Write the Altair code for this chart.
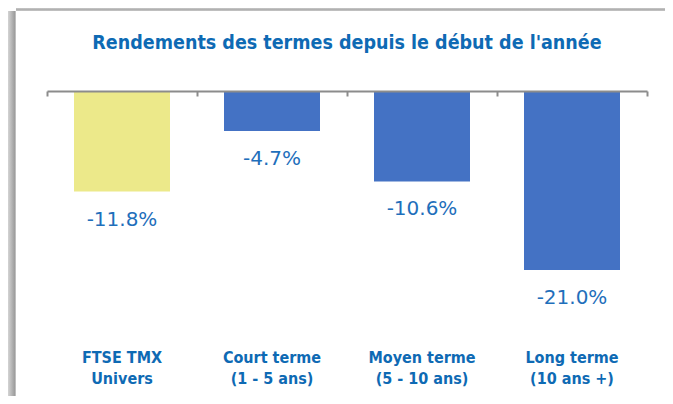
import altair as alt
import pandas as pd

categories = ["FTSE TMX\nUnivers", "Court terme\n(1 - 5 ans)", "Moyen terme\n(5 - 10 ans)", "Long terme\n(10 ans +)"]
values = [-11.8, -4.7, -10.6, -21.0]
bar_colors = ["#ECE98A", "#4472C4", "#4472C4", "#4472C4"]
title_text = "Rendements des termes depuis le début de l'année"

df = pd.DataFrame({
    "cat": categories,
    "val": values,
    "label": [f"{v:.1f}%" for v in values],
})

H = 249
W = 600

xscale = alt.Scale(domain=categories, paddingInner=0, paddingOuter=0)
yscale = alt.Scale(domain=[-29.2, 0], nice=False, zero=False)

bars = alt.Chart(df).mark_bar(width=alt.RelativeBandSize(0.64)).encode(
    x=alt.X("cat:N", scale=xscale, sort=categories, title=None,
            axis=alt.Axis(orient="bottom", offset=-H, labels=False, ticks=True,
                          tickBand="extent", tickSize=5, tickWidth=2, tickColor="#8c8c8c",
                          domainColor="#8c8c8c", domainWidth=2, zindex=1, grid=False)),
    y=alt.Y("val:Q", scale=yscale, axis=None),
    color=alt.Color("cat:N", scale=alt.Scale(domain=categories, range=bar_colors), legend=None),
)

text = alt.Chart(df).mark_text(
    baseline="middle", dy=28, fontSize=20, font="DejaVu Sans", color="#1f6fbb"
).encode(
    x=alt.X("cat:N", scale=xscale, sort=categories, title=None,
            axis=alt.Axis(orient="bottom", domain=False, ticks=False, tickSize=0,
                          labelPadding=9, labelFontSize=16, labelFontWeight="bold",
                          labelFont="DejaVu Sans Condensed", labelColor="#0e6ab4",
                          labelLineHeight=21, labelAngle=0, grid=False,
                          labelExpr="split(datum.label, '\\n')")),
    y=alt.Y("val:Q", scale=yscale, axis=None),
    text="label:N",
)

shadow_df = pd.DataFrame({"a": [0]})
left_shadow = alt.Chart(shadow_df).mark_rect(
    color=alt.LinearGradient(gradient="linear", x1=0, x2=1, y1=0, y2=0,
                             stops=[alt.GradientStop(color="#d4d4d4", offset=0),
                                    alt.GradientStop(color="#9c9c9c", offset=0.85),
                                    alt.GradientStop(color="#d8d8d8", offset=1)])
).encode(x=alt.value(-39), x2=alt.value(-31), y=alt.value(-80), y2=alt.value(H + 60))
top_shadow = alt.Chart(shadow_df).mark_rect(
    color=alt.LinearGradient(gradient="linear", x1=0, x2=0, y1=0, y2=1,
                             stops=[alt.GradientStop(color="#c8c8c8", offset=0),
                                    alt.GradientStop(color="#a8a8a8", offset=0.7),
                                    alt.GradientStop(color="#dcdcdc", offset=1)])
).encode(x=alt.value(-31), x2=alt.value(W + 40), y=alt.value(-83), y2=alt.value(-80))

chart = alt.layer(left_shadow, top_shadow, bars, text).resolve_axis(x="independent").properties(
    width=W, height=H,
    title=alt.Title(title_text, anchor="middle", fontSize=19.5, fontWeight="bold",
                    font="DejaVu Sans Condensed", color="#0e6ab4", offset=-45, frame="group"),
    autosize=alt.AutoSizeParams(type="none"),
    padding={"left": 39, "top": 83, "right": 18, "bottom": 56},
    background="white",
).configure_view(stroke=None)

chart.save("out.html", embed_options={"renderer": "svg", "actions": False})
